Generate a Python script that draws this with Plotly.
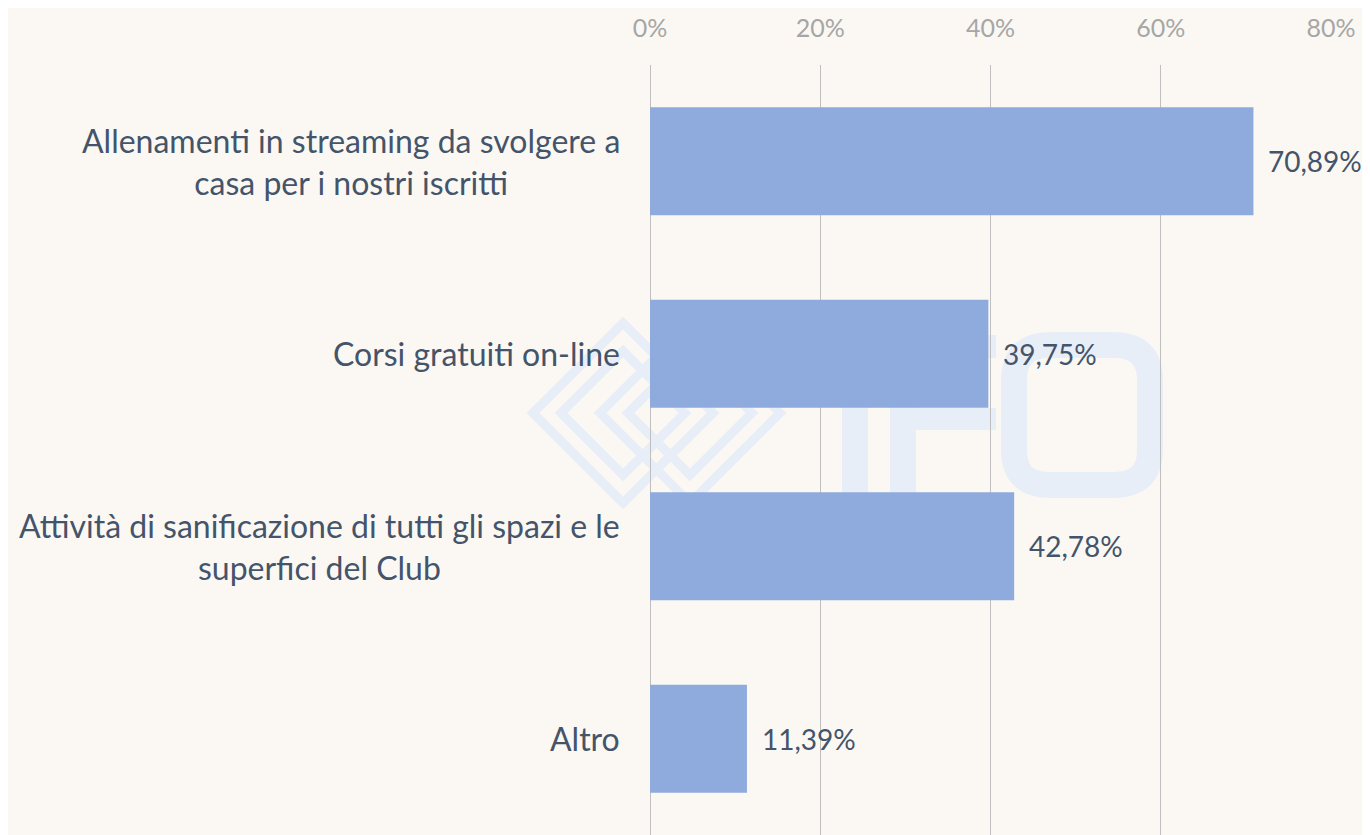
import plotly.graph_objects as go

categories = [
    "Allenamenti in streaming da svolgere a<br>casa per i nostri iscritti",
    "Corsi gratuiti on-line",
    "Attività di sanificazione di tutti gli spazi e le<br>superfici del Club",
    "Altro",
]
values = [70.89, 39.75, 42.78, 11.39]
tick_vals = [0, 20, 40, 60, 80]
tick_text = ["0%", "20%", "40%", "60%", "80%"]

BG = "#FBF8F3"
BAR = "#8FAADC"
TXT = "#44546A"
FONT = "Lato, Carlito, Calibri, 'Open Sans', sans-serif"

labels = [f"{v:.2f}%".replace(".", ",") for v in values]

fig = go.Figure()
fig.add_trace(go.Bar(
    y=categories, x=values, orientation="h",
    marker=dict(color=BAR, line=dict(width=0)),
    hoverinfo="skip",
))

# page offset (default body margin) and plot area in page pixels
OFF = 8
L, R, T, B = 650, 1331, 65, 835
W, H = 1370 - OFF, 835 - OFF


def px(x):
    return (x - L) / (R - L)


def py(y):
    return 1 - (y - T) / (B - T)


wm = "#E8EEF7"
shapes = []
# watermark: diamonds
for cx, cy, h in [(623, 413, 90), (623, 413, 62), (690, 413, 90), (690, 413, 62)]:
    path = (f"M {px(cx-h)},{py(cy)} L {px(cx)},{py(cy-h)} L {px(cx+h)},{py(cy)} "
            f"L {px(cx)},{py(cy+h)} Z")
    shapes.append(dict(type="path", path=path, xref="paper", yref="paper",
                       line=dict(color=wm, width=9), layer="below"))
# "I"
shapes.append(dict(type="rect", xref="paper", yref="paper", x0=px(842), x1=px(868),
                   y0=py(335), y1=py(498), fillcolor=wm, line=dict(width=0), layer="below"))
# "F"
shapes.append(dict(type="rect", xref="paper", yref="paper", x0=px(890), x1=px(916),
                   y0=py(335), y1=py(498), fillcolor=wm, line=dict(width=0), layer="below"))
shapes.append(dict(type="rect", xref="paper", yref="paper", x0=px(890), x1=px(996),
                   y0=py(335), y1=py(358), fillcolor=wm, line=dict(width=0), layer="below"))
shapes.append(dict(type="rect", xref="paper", yref="paper", x0=px(890), x1=px(996),
                   y0=py(408), y1=py(430), fillcolor=wm, line=dict(width=0), layer="below"))
# "O"
shapes.append(dict(type="path", xref="paper", yref="paper", layer="below",
                   line=dict(color=wm, width=26),
                   path=(f"M {px(1050)},{py(345)} L {px(1113)},{py(345)} "
                         f"Q {px(1150)},{py(345)} {px(1150)},{py(380)} L {px(1150)},{py(450)} "
                         f"Q {px(1150)},{py(485)} {px(1113)},{py(485)} L {px(1050)},{py(485)} "
                         f"Q {px(1014)},{py(485)} {px(1014)},{py(450)} L {px(1014)},{py(380)} "
                         f"Q {px(1014)},{py(345)} {px(1050)},{py(345)} Z")))

annotations = []
for c, v, lab in zip(categories, values, labels):
    annotations.append(dict(x=v, y=c, xref="x", yref="y", text=lab, showarrow=False,
                            xanchor="left", xshift=13,
                            font=dict(family=FONT, size=28, color=TXT)))
    annotations.append(dict(x=0, y=c, xref="paper", yref="y", text=c, showarrow=False,
                            xanchor="right", xshift=-28, align="center",
                            font=dict(family=FONT, size=32, color=TXT)))

fig.update_layout(
    width=W, height=H,
    margin=dict(l=L - OFF, r=W - (R - OFF), t=T - OFF, b=H - (B - OFF)),
    paper_bgcolor=BG, plot_bgcolor="rgba(0,0,0,0)",
    bargap=0.44,
    showlegend=False,
    shapes=shapes,
    annotations=annotations,
    xaxis=dict(range=[0, 80], side="top", tickvals=tick_vals, ticktext=tick_text,
               showgrid=True, gridcolor="#BFBFBF", gridwidth=1,
               zeroline=True, zerolinecolor="#BFBFBF", zerolinewidth=1,
               showline=False, ticks="", ticklabelstandoff=22,
               tickfont=dict(family=FONT, size=25, color="#A6A6A6"),
               fixedrange=True),
    yaxis=dict(autorange="reversed", range=[3.5, -0.5], showticklabels=False,
               showgrid=False, zeroline=False, showline=False, ticks="",
               fixedrange=True),
    font=dict(family=FONT),
)

fig.write_html("out.html")
